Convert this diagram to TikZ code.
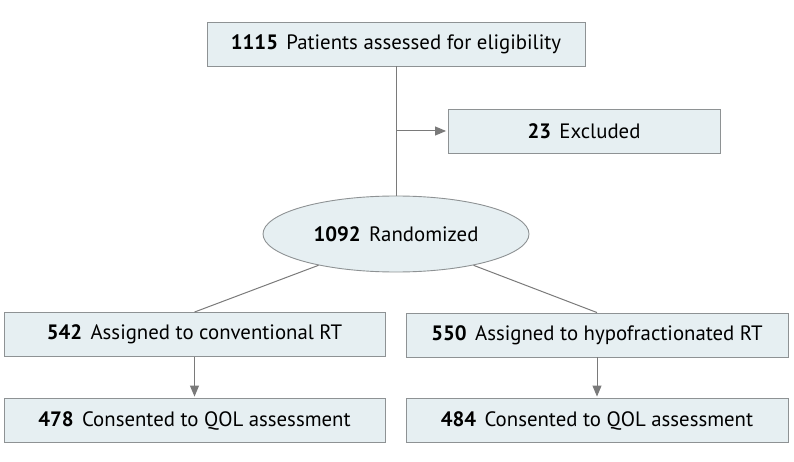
\documentclass[tikz,border=0pt]{standalone}
\usepackage{fontspec}
\setmainfont{PT Sans}
\usepackage{tikz}
\usetikzlibrary{arrows.meta,positioning,shapes.geometric}
\definecolor{boxfill}{HTML}{E6EFF2}
\definecolor{boxline}{HTML}{8E9294}
\definecolor{wire}{HTML}{7A7A7A}
\newcommand{\cnt}[1]{\textbf{#1}\hspace{0.4em}}

\begin{document}
\begin{tikzpicture}[x=1pt,y=-1pt,
    font=\fontsize{20.8}{24}\selectfont,
    stagebox/.style={draw=boxline,fill=boxfill,line width=0.9pt,inner sep=0pt,
      minimum height=44pt,text=black},
    randbox/.style={ellipse,draw=boxline,fill=boxfill,line width=0.9pt,inner sep=0pt,
      minimum width=266pt,minimum height=76pt},
    wire/.style={draw=wire,line width=1pt},
    arr/.style={wire,-{Triangle[length=11pt,width=9pt]}}]
  \useasboundingbox (0,0) rectangle (794,462);
  \node[stagebox,minimum width=378pt] (assess) at (396,44) {\cnt{1115}Patients assessed for eligibility};
  \node[stagebox,minimum width=272pt] (excl) at (584,131) {\cnt{23}Excluded};
  \node[randbox] (rand) at (396,234) {\cnt{1092}Randomized};
  \node[stagebox,minimum width=381pt] (conv) at (194.5,334.5) {\cnt{542}Assigned to conventional RT};
  \node[stagebox,minimum width=382pt] (hypo) at (597,335) {\cnt{550}Assigned to hypofractionated RT};
  \node[stagebox,minimum width=381pt] (convq) at (194.5,420.5) {\cnt{478}Consented to QOL assessment};
  \node[stagebox,minimum width=382pt] (hypoq) at (597,420.5) {\cnt{484}Consented to QOL assessment};
  \coordinate (split) at (assess.south |- excl.west);
  % flow
  \draw[wire] (assess) -- (rand);
  \draw[arr,shorten >=1.5pt] (split) -- (excl);
  \draw[wire] (rand.202) -- (conv.north);
  \draw[wire] (rand.-22) -- (hypo.north);
  \draw[arr,shorten >=1.5pt] (conv) -- (convq);
  \draw[arr,shorten >=1.5pt] (hypo) -- (hypoq);
\end{tikzpicture}
\end{document}
